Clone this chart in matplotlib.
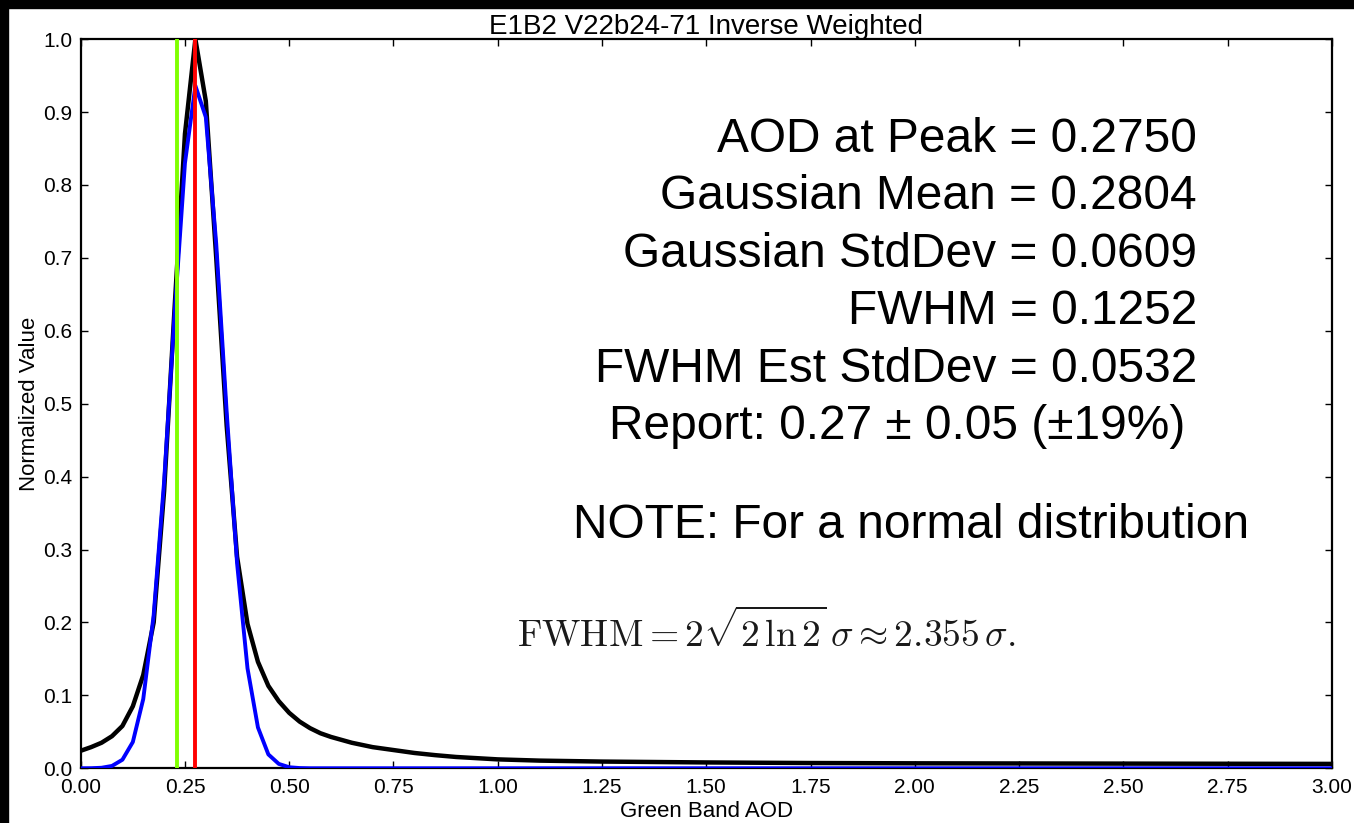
import matplotlib
matplotlib.use("Agg")
import matplotlib.pyplot as plt
from matplotlib.patches import Rectangle

plt.rcParams['font.family'] = ['Liberation Sans', 'DejaVu Sans']
plt.rcParams['mathtext.fontset'] = 'cm'

# Normalized distribution (black)
aod_black = [0.0, 0.025, 0.05, 0.075, 0.1, 0.125, 0.15, 0.175, 0.2, 0.225, 0.25,
             0.275, 0.3, 0.325, 0.35, 0.375, 0.4, 0.425, 0.45, 0.475, 0.5, 0.525,
             0.55, 0.575, 0.6, 0.65, 0.7, 0.75, 0.8, 0.85, 0.9, 1.0, 1.1, 1.25,
             1.5, 1.75, 2.0, 2.5, 3.0]
val_black = [0.024, 0.029, 0.035, 0.044, 0.058, 0.085, 0.128, 0.20, 0.38, 0.63, 0.87,
             1.0, 0.915, 0.70, 0.47, 0.29, 0.198, 0.146, 0.113, 0.092, 0.076, 0.064,
             0.055, 0.048, 0.043, 0.035, 0.029, 0.025, 0.021, 0.018, 0.0155, 0.0122, 0.0105, 0.0092,
             0.008, 0.0072, 0.0068, 0.0064, 0.006]

# Gaussian fit (blue)
aod_blue = [0.0, 0.025, 0.05, 0.075, 0.1, 0.125, 0.15, 0.175, 0.2, 0.225, 0.25,
            0.275, 0.3, 0.325, 0.35, 0.375, 0.4, 0.425, 0.45, 0.475, 0.5, 0.525,
            0.55, 1.0, 2.0, 3.0]
val_blue = [0.0, 0.0001, 0.0007, 0.0032, 0.0117, 0.036, 0.095, 0.210, 0.393, 0.622, 0.830,
            0.936, 0.893, 0.719, 0.489, 0.281, 0.137, 0.056, 0.019, 0.006, 0.0014, 0.0003,
            0.0, 0.0, 0.0, 0.0]

green_line = 0.23    # vertical marker (green)
peak_aod = 0.275     # AOD at peak (red)

stats_lines = ["AOD at Peak = 0.2750",
               "Gaussian Mean = 0.2804",
               "Gaussian StdDev = 0.0609",
               "FWHM = 0.1252",
               "FWHM Est StdDev = 0.0532"]
report_line = u"Report: 0.27 \u00b1 0.05 (\u00b119%)"
note_line = "NOTE: For a normal distribution"
formula = r"$\mathrm{FWHM}=2\sqrt{2\,\ln 2}\,\sigma\approx 2.355\,\sigma.$"

fig = plt.figure(figsize=(13.54, 8.23), dpi=100)
fig.patch.set_facecolor('white')
ax = fig.add_axes([0.0596, 0.0665, 0.924, 0.886])

ax.plot(aod_black, val_black, color='black', lw=3.2, zorder=2)
ax.plot(aod_blue, val_blue, color='blue', lw=2.8, zorder=3)
ax.axvline(green_line, color='#7fff00', lw=2.8, zorder=4)
ax.axvline(peak_aod, color='red', lw=2.8, zorder=5)

ax.set_xlim(0, 3.0)
ax.set_ylim(0, 1.0)
ax.set_xticks([i * 0.25 for i in range(13)])
ax.set_yticks([i * 0.1 for i in range(11)])
ax.xaxis.set_major_formatter(matplotlib.ticker.FormatStrFormatter('%.2f'))
ax.yaxis.set_major_formatter(matplotlib.ticker.FormatStrFormatter('%.1f'))
ax.tick_params(direction='in', length=5, width=1, top=True, right=True,
               labelsize=15)
ax.tick_params(axis='x', pad=7)
ax.tick_params(axis='y', pad=6)
for s in ax.spines.values():
    s.set_linewidth(1.6)

ax.set_title("E1B2 V22b24-71 Inverse Weighted", fontsize=20, pad=4)
ax.set_xlabel("Green Band AOD", fontsize=16, labelpad=3)
ax.set_ylabel("Normalized Value", fontsize=16, labelpad=2)

# annotation block
for i, line in enumerate(stats_lines):
    ax.text(0.8923, 0.8629 - i * 0.0789, line, transform=ax.transAxes,
            ha='right', va='center', fontsize=34.5)
ax.text(0.8827, 0.8629 - 5 * 0.0789, report_line, transform=ax.transAxes,
        ha='right', va='center', fontsize=34.5)
ax.text(0.664, 0.3335, note_line, transform=ax.transAxes,
        ha='center', va='center', fontsize=34.5)
ax.text(0.548, 0.187, formula, transform=ax.transAxes,
        ha='center', va='center', fontsize=27, color='#1a1a1a')

# black screen border at top and left
fig.add_artist(Rectangle((0, 1 - 8 / 823), 1, 8 / 823, transform=fig.transFigure,
                         color='black', zorder=10))
fig.add_artist(Rectangle((0, 0), 8 / 1354, 1, transform=fig.transFigure,
                         color='black', zorder=10))

fig.savefig('out.png', dpi=100, facecolor='white')
